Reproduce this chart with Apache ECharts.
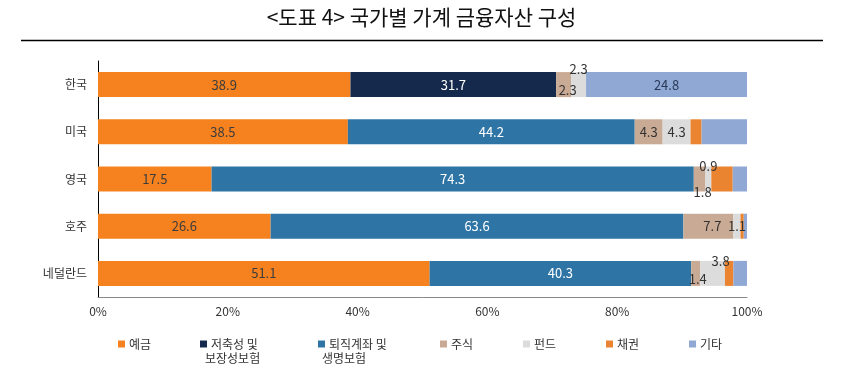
<!DOCTYPE html>
<html><head><meta charset="utf-8">
<script src="https://cdn.jsdelivr.net/npm/echarts@6/dist/echarts.min.js"></script>
<style>html,body{margin:0;padding:0;background:#fff}#c{width:843px;height:373px}</style>
</head><body><div id="c"></div>
<script>
const countries = ['한국', '미국', '영국', '호주', '네덜란드'];
const seriesNames = ['예금', '저축성 및 보장성보험', '퇴직계좌 및 생명보험', '주식', '펀드', '채권', '기타'];
const deposit = [38.9, 38.5, 17.5, 26.6, 51.1];
const savingsIns = [31.7, 0, 0, 0, 0];
const pensionLife = [0, 44.2, 74.3, 63.6, 40.3];
const stocks = [2.3, 4.3, 1.8, 7.7, 1.4];
const funds = [2.3, 4.3, 0.9, 1.1, 3.8];
const bonds = [0, 1.7, 3.3, 0.5, 1.3];
const others = [24.8, 7.0, 2.2, 0.5, 2.1];
const xTicks = ['0%', '20%', '40%', '60%', '80%', '100%'];

const FONT = '"Noto Sans CJK KR", "Noto Sans", sans-serif';
const colors = ['#F5821F', '#14294B', '#2E75A6', '#C9AA94', '#DCDCDC', '#EA8431', '#8FA8D4'];
const values = [deposit, savingsIns, pensionLife, stocks, funds, bonds, others];

// label styling per series / category (style only)
const H = {show: false};
const D = (c) => ({show: true, position: 'inside', color: c});
const O = (c, dx, dy) => ({show: true, position: 'inside', color: c, offset: [dx, dy]});
const labelCfg = [
  [D('#3c3c3c'), D('#3c3c3c'), D('#3c3c3c'), D('#3c3c3c'), D('#3c3c3c')],
  [D('#ffffff'), H, H, H, H],
  [H, D('#ffffff'), D('#ffffff'), D('#ffffff'), D('#ffffff')],
  [O('#333', 4, 5), D('#333'), O('#333', 3, 13), O('#333', 4, 0), O('#333', 2, 6)],
  [O('#333', 0, -16), D('#333'), O('#333', 0, -13), D('#333'), O('#333', 8, -12)],
  [H, H, H, H, H],
  [D('#2b3a58'), H, H, H, H]
];

const series = seriesNames.map((name, s) => ({
  name: name,
  type: 'bar',
  stack: 'total',
  barCategoryGap: '47%',
  itemStyle: {color: colors[s]},
  label: {fontFamily: FONT, fontSize: 13, formatter: (p) => p.value ? p.value.toFixed(1) : ''},
  data: values[s].map((v, i) => ({value: v, label: labelCfg[s][i]}))
}));

const legendPos = [[113, 333], [195, 333], [313, 333], [435, 333], [518, 333], [601, 333], [684, 333]];
const legends = seriesNames.map((name, i) => ({
  data: [name],
  left: legendPos[i][0],
  top: legendPos[i][1],
  icon: 'rect',
  itemWidth: 7,
  itemHeight: 7,
  itemGap: 0,
  selectedMode: false,
  formatter: (n) => n.replace('보장성보험', '').replace('생명보험', '').trim(),
  textStyle: {fontFamily: FONT, fontSize: 12, color: '#333', padding: [0, 0, 0, -1]}
}));

const chart = echarts.init(document.getElementById('c'), null, {renderer: 'canvas'});
chart.setOption({
  animation: false,
  color: colors,
  grid: {left: 98, right: 96, top: 61, bottom: 76},
  legend: legends,
  xAxis: {
    type: 'value', min: 0, max: 100, interval: 20,
    axisLine: {show: true, lineStyle: {color: '#888', width: 1}},
    axisTick: {show: false},
    splitLine: {show: false},
    axisLabel: {fontFamily: FONT, fontSize: 12, color: '#333', margin: 8,
      formatter: (v) => xTicks[Math.round(v / 20)]}
  },
  yAxis: {
    type: 'category', data: countries, inverse: true,
    axisLine: {show: true, lineStyle: {color: '#000', width: 1}},
    axisTick: {show: false},
    axisLabel: {fontFamily: FONT, fontSize: 12, color: '#333', margin: 11}
  },
  graphic: [
    {type: 'text', left: 'center', top: 7, style: {text: '<도표 4> 국가별 가계 금융자산 구성', font: '21px ' + FONT, fill: '#111'}},
    {type: 'line', shape: {x1: 21, y1: 40.5, x2: 823, y2: 40.5}, style: {stroke: '#000', lineWidth: 1.5}},
    {type: 'text', left: 205, top: 352, style: {text: '보장성보험', font: '12px ' + FONT, fill: '#333'}},
    {type: 'text', left: 322, top: 352, style: {text: '생명보험', font: '12px ' + FONT, fill: '#333'}}
  ],
  series: series
});
</script>
</body></html>
